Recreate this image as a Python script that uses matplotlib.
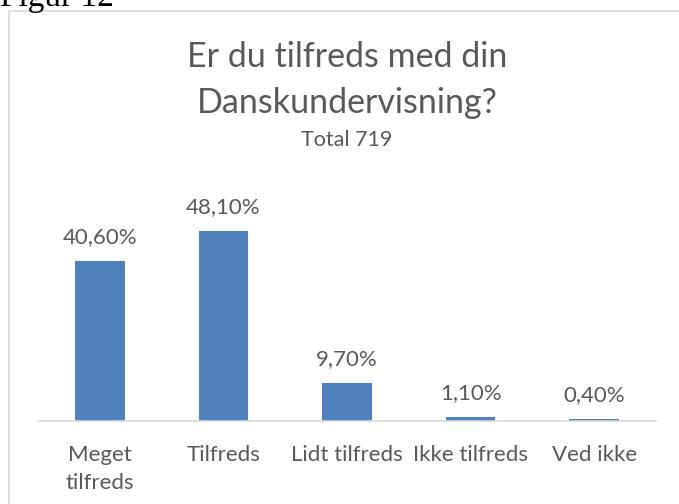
import matplotlib.pyplot as plt
from matplotlib.patches import Rectangle

kategorier = ['Meget\ntilfreds', 'Tilfreds', 'Lidt tilfreds', 'Ikke tilfreds', 'Ved ikke']
procenter = [40.6, 48.1, 9.7, 1.1, 0.4]
etiketter = ['40,60%', '48,10%', '9,70%', '1,10%', '0,40%']

plt.rcParams['font.family'] = ['Lato', 'DejaVu Sans']
graa = '#595959'

fig = plt.figure(figsize=(6.79, 5.04), dpi=100)
W, H = 679, 504

# ramme om diagrammet
fig.patches.append(Rectangle((9 / W, -0.05), 1.0, 1 - 11 / H + 0.05,
                             transform=fig.transFigure, fill=False,
                             edgecolor='#D9D9D9', linewidth=1.2))

# "Figur 12" afskaaret i toppen
fig.text(0 / W, 1 - 6 / H, 'Figur 12', family=['Liberation Serif'],
         fontsize=24, color='black', ha='left', va='baseline')

# titel
fig.text(347 / W, 1 - 57 / H, 'Er du tilfreds med din', fontsize=24.5,
         color=graa, ha='center', va='center')
fig.text(347 / W, 1 - 103 / H, 'Danskundervisning?', fontsize=24.5,
         color=graa, ha='center', va='center')
fig.text(347 / W, 1 - 140 / H, 'Total 719', fontsize=15.5,
         color=graa, ha='center', va='center')

ax = fig.add_axes([38 / W, 1 - 421 / H, 618 / W, 237 / H])
x = range(len(kategorier))
ax.bar(x, procenter, width=0.4, color='#4F81BD')
ax.set_xlim(-0.5, len(kategorier) - 0.5)
ax.set_ylim(0, 60)

for i, (v, t) in enumerate(zip(procenter, etiketter)):
    ax.annotate(t, (i, v), xytext=(0, 10), textcoords='offset points',
                ha='center', va='bottom', fontsize=16, color=graa)

ax.set_xticks(list(x))
ax.set_xticklabels(kategorier, fontsize=16, color=graa, linespacing=1.5)
ax.tick_params(axis='x', length=0, pad=17)
ax.set_yticks([])
for s in ['top', 'left', 'right']:
    ax.spines[s].set_visible(False)
ax.spines['bottom'].set_color('#D9D9D9')
ax.spines['bottom'].set_linewidth(1.2)

plt.savefig('out.png', dpi=100)
